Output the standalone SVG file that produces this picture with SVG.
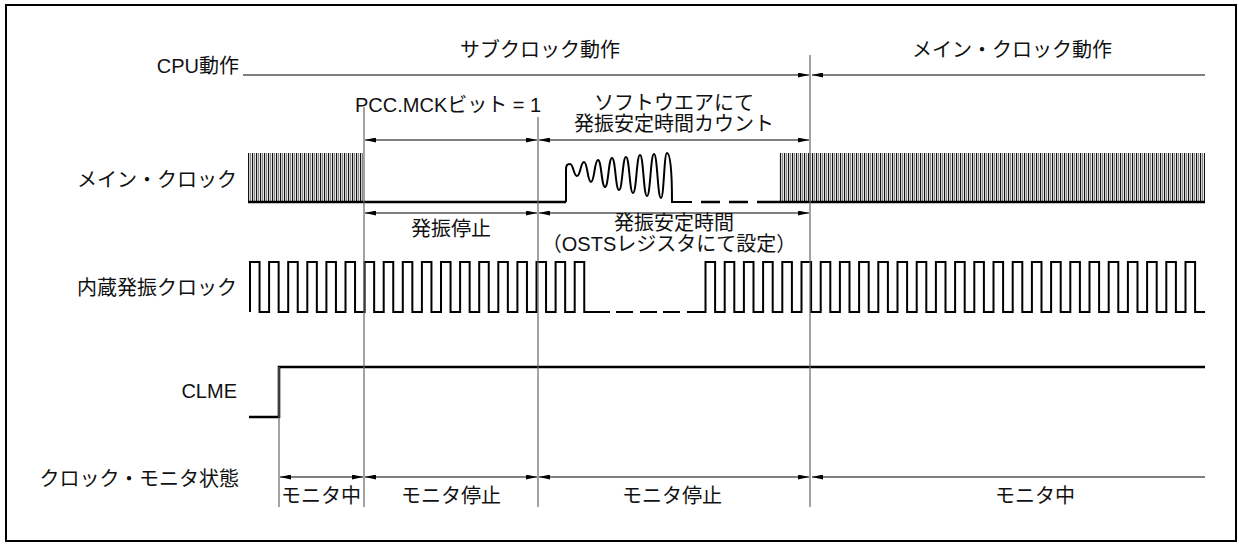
<svg xmlns="http://www.w3.org/2000/svg" width="1239" height="547" viewBox="0 0 1239 547">
<defs>
<style>
text{font-family:"Liberation Sans","Noto Sans CJK JP",sans-serif;font-size:20px;fill:#111}
.m{text-anchor:middle}
.e{text-anchor:end}
.arr{stroke:#000;stroke-width:1.1;fill:none}
.vl{stroke:#666;stroke-width:1.2;fill:none}
.sig{stroke:#000;stroke-width:2;fill:none}
.base{stroke:#000;stroke-width:2.6;fill:none}
</style>
<pattern id="hatch" patternUnits="userSpaceOnUse" x="0" y="0" width="4" height="10">
<rect x="0" y="0" width="4" height="10" fill="#fff"/>
<rect x="0" y="0" width="1.2" height="10" fill="#111"/>
<rect x="2" y="0" width="1.2" height="10" fill="#888"/>
</pattern>
<marker id="ah" viewBox="0 0 11 5" refX="11" refY="2.5" markerWidth="11" markerHeight="5" markerUnits="userSpaceOnUse" orient="auto-start-reverse">
<path d="M0,0 L11,2.5 L0,5 z" fill="#000"/>
</marker>
</defs>
<rect x="6" y="5" width="1230" height="536" fill="#fff" stroke="#000" stroke-width="2"/>

<g id="labels">
<text class="e" x="239" y="73">CPU動作</text>
<text class="e" x="237" y="187">メイン・クロック</text>
<text class="e" x="237" y="295">内蔵発振クロック</text>
<text class="e" x="237" y="398">CLME</text>
<text class="e" x="239" y="486">クロック・モニタ状態</text>
</g>

<g id="phase-labels">
<text class="m" x="540" y="57">サブクロック動作</text>
<text class="m" x="1012" y="57">メイン・クロック動作</text>
<text x="355" y="112">PCC.MCKビット = 1</text>
<text class="m" x="674" y="110">ソフトウエアにて</text>
<text class="m" x="674" y="131">発振安定時間カウント</text>
<text class="m" x="451" y="236">発振停止</text>
<text class="m" x="674" y="230">発振安定時間</text>
<text class="m" x="669" y="251">（OSTSレジスタにて設定）</text>
<text class="m" x="321" y="503">モニタ中</text>
<text class="m" x="451" y="503">モニタ停止</text>
<text class="m" x="672" y="503">モニタ停止</text>
<text class="m" x="1035" y="503">モニタ中</text>
</g>

<g id="main-clock">
<rect x="248" y="153" width="115" height="49" fill="url(#hatch)"/>
<rect x="779" y="153" width="426" height="49" fill="url(#hatch)"/>
<path class="base" d="M248,202 H566"/>
<path class="sig" d="M566,202 V170 C566,165 567,164 570,164 C573.5,164 573.5,176 577,176 C580.5,176 580.5,162 584,162 C587.5,162 587.5,182 591,182 C594.5,182 594.5,160 598,160 C601.5,160 601.5,187 605,187 C608.5,187 608.5,158 612,158 C615.5,158 615.5,190 619,190 C622.5,190 622.5,157 626,157 C629.5,157 629.5,193 633,193 C636.5,193 636.5,155 640,155 C643.5,155 643.5,196 647,196 C650.5,196 650.5,154 654,154 C657.5,154 657.5,198 661,198 C664,198 664,153 667,153 C670,153 672,168 672,202 H692"/>
<path class="base" d="M701,202 H720 M729,202 H748 M757,202 H779 M779,202 H1205"/>
</g>

<g id="internal-clock">
<path class="sig" d="M250,312 v-50h9.55v50h9.55 v-50h9.55v50h9.55 v-50h9.55v50h9.55 v-50h9.55v50h9.55 v-50h9.55v50h9.55 v-50h9.55v50h9.55 v-50h9.55v50h9.55 v-50h9.55v50h9.55 v-50h9.55v50h9.55 v-50h9.55v50h9.55 v-50h9.55v50h9.55 v-50h9.55v50h9.55 v-50h9.55v50h9.55 v-50h9.55v50h9.55 v-50h9.55v50h9.55 v-50h9.55v50h9.55 v-50h9.55v50h9.55 v-50h9.55v50 H610"/>
<path class="sig" d="M616,312 H633 M640,312 H657 M663,312 H680"/>
<path class="sig" d="M687,312 H705.5 v-50h9.6v50h9.6 v-50h9.6v50h9.6 v-50h9.6v50h9.6 v-50h9.6v50h9.6 v-50h9.6v50h9.6 v-50h9.6v50h9.6 v-50h9.6v50h9.6 v-50h9.6v50h9.6 v-50h9.6v50h9.6 v-50h9.6v50h9.6 v-50h9.6v50h9.6 v-50h9.6v50h9.6 v-50h9.6v50h9.6 v-50h9.6v50h9.6 v-50h9.6v50h9.6 v-50h9.6v50h9.6 v-50h9.6v50h9.6 v-50h9.6v50h9.6 v-50h9.6v50h9.6 v-50h9.6v50h9.6 v-50h9.6v50h9.6 v-50h9.6v50h9.6 v-50h9.6v50h9.6 v-50h9.6v50h9.6 v-50h9.6v50h9.6 v-50h9.6v50 H1205"/>
</g>

<g id="clme">
<path class="base" d="M249,417 H279 V367 H1205"/>
</g>

<g id="connectors">
<line class="vl" x1="279" y1="367" x2="279" y2="507"/>
<line class="vl" x1="364" y1="107" x2="364" y2="507"/>
<line class="vl" x1="538" y1="117" x2="538" y2="507"/>
<line class="vl" x1="810" y1="55" x2="810" y2="507"/>
<line class="arr" x1="243" y1="75" x2="809" y2="75" marker-end="url(#ah)"/>
<line class="arr" x1="812" y1="75" x2="1205" y2="75" marker-start="url(#ah)"/>
<line class="arr" x1="365" y1="140" x2="537" y2="140" marker-start="url(#ah)" marker-end="url(#ah)"/>
<line class="arr" x1="539" y1="140" x2="809" y2="140" marker-start="url(#ah)" marker-end="url(#ah)"/>
<line class="arr" x1="365" y1="213" x2="537" y2="213" marker-start="url(#ah)" marker-end="url(#ah)"/>
<line class="arr" x1="539" y1="213" x2="809" y2="213" marker-start="url(#ah)" marker-end="url(#ah)"/>
<line class="arr" x1="280" y1="477" x2="363" y2="477" marker-start="url(#ah)" marker-end="url(#ah)"/>
<line class="arr" x1="365" y1="477" x2="537" y2="477" marker-start="url(#ah)" marker-end="url(#ah)"/>
<line class="arr" x1="539" y1="477" x2="809" y2="477" marker-start="url(#ah)" marker-end="url(#ah)"/>
<line class="arr" x1="812" y1="477" x2="1205" y2="477" marker-start="url(#ah)"/>
</g>
</svg>
